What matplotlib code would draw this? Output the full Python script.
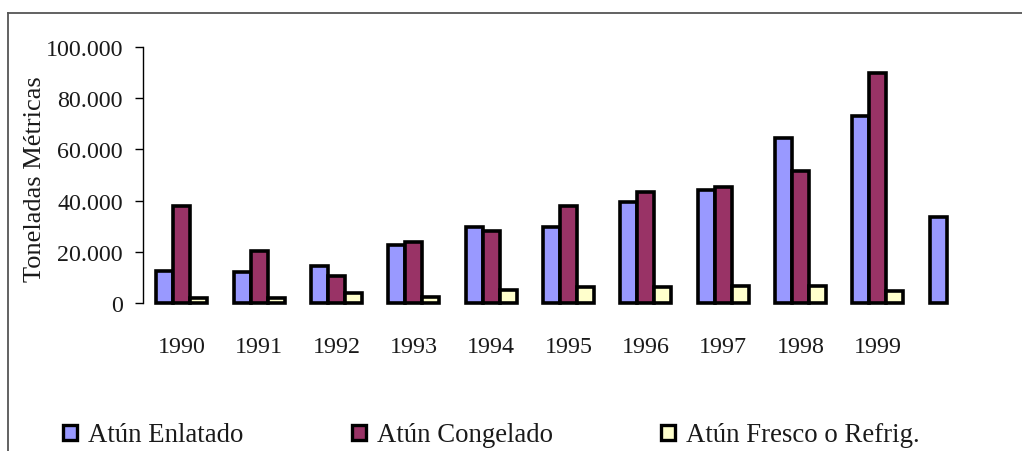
import numpy as np
import matplotlib
matplotlib.use("Agg")
import matplotlib.pyplot as plt
from matplotlib.ticker import FuncFormatter, MultipleLocator
from matplotlib.patches import Rectangle
from matplotlib.lines import Line2D

# ---- data ----
categories = ["1990", "1991", "1992", "1993", "1994", "1995", "1996", "1997", "1998", "1999", ""]
series_names = ["Atún Enlatado", "Atún Congelado", "Atún Fresco o Refrig."]
enlatado = [12500, 12000, 14500, 22500, 29500, 29500, 39500, 44000, 64500, 73000, 33500]
congelado = [38000, 20500, 10500, 24000, 28000, 38000, 43500, 45500, 51500, 90000, np.nan]
fresco = [2000, 2000, 3800, 2500, 5200, 6200, 6200, 6800, 6800, 4500, np.nan]
y_label = "Toneladas Métricas"

colors = ["#9999FF", "#993366", "#FFFFCC"]
text_color = "#1a1a1a"

plt.rcParams['font.family'] = ['Liberation Serif', 'DejaVu Serif']

W, H = 1022, 452
fig = plt.figure(figsize=(W / 100, H / 100), dpi=100)

def fx(px):
    return px / W

def fy(py):
    return 1 - py / H

ax_left, ax_right, ax_top, ax_bottom = 143, 994, 48, 304
ax = fig.add_axes([fx(ax_left), fy(ax_bottom), fx(ax_right - ax_left), (ax_bottom - ax_top) / H])

x = np.arange(len(categories))
bw = 0.22
for i, (vals, col) in enumerate(zip([enlatado, congelado, fresco], colors)):
    ax.bar(x + (i - 1) * bw, vals, width=bw, color=col, edgecolor="black",
           linewidth=2.6, clip_on=False, zorder=3)

ax.set_xlim(-0.5, len(categories) - 0.5)
ax.set_ylim(0, 100000)
ax.yaxis.set_major_locator(MultipleLocator(20000))
ax.yaxis.set_major_formatter(FuncFormatter(lambda v, p: f"{int(v):,}".replace(",", ".")))

for s in ["top", "right", "bottom"]:
    ax.spines[s].set_visible(False)
ax.spines["left"].set_linewidth(1.0)
ax.spines["left"].set_color("black")

ax.tick_params(axis="y", direction="out", length=5.5, width=1.0, pad=9,
               labelsize=17.3, labelcolor=text_color)
ax.set_xticks(x)
ax.set_xticklabels(categories)
ax.tick_params(axis="x", length=0, pad=23.5, labelsize=17.3, labelcolor=text_color)

ax.set_ylabel(y_label, fontsize=19, color=text_color)
ax.yaxis.set_label_coords(-97 / (ax_right - ax_left), (ax_bottom - 179) / (ax_bottom - ax_top))

# ---- outer frame (extends beyond the image on right/bottom) ----
fig.add_artist(Line2D([fx(8), 1.0], [fy(14), fy(14)], color="#555555", linewidth=1.3,
                      transform=fig.transFigure))
fig.add_artist(Line2D([fx(8), fx(8)], [fy(14), 0.0], color="#555555", linewidth=1.3,
                      transform=fig.transFigure))

# ---- legend ----
sq_x = [63, 352, 661]
txt_x = [88, 377, 686]
sq_w, sq_h = 14, 15
leg_cy = 433
for name, col, sx, tx in zip(series_names, colors, sq_x, txt_x):
    fig.add_artist(Rectangle((fx(sx), fy(leg_cy + sq_h / 2)), sq_w / W, sq_h / H,
                             facecolor=col, edgecolor="black", linewidth=2.4,
                             transform=fig.transFigure))
    fig.text(fx(tx), fy(leg_cy), name, fontsize=19.3, color=text_color,
             ha="left", va="center_baseline")

fig.savefig("out.png", dpi=100)
